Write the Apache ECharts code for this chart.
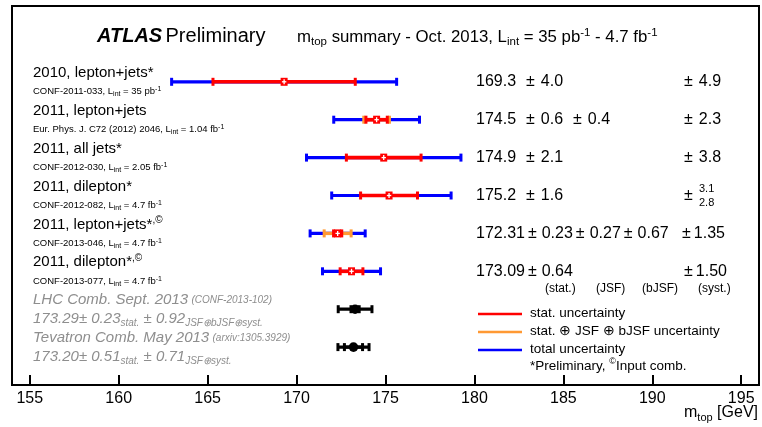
<!DOCTYPE html>
<html>
<head>
<meta charset="utf-8">
<script src="https://cdn.jsdelivr.net/npm/echarts@6/dist/echarts.min.js"></script>
<style>
  html, body { margin: 0; padding: 0; background: #fff; }
  #chart { width: 762px; height: 427px; }
</style>
</head>
<body>
<div id="chart"></div>
<script>
const FONT = '"Liberation Sans", Arial, Helvetica, sans-serif';
const RED = '#ff0000';
const ORANGE = '#ff9933';
const BLUE = '#0000ff';
const GREY = '#8e8e8e';

// ATLAS top-quark mass measurements (GeV)
const measLabels   = ['2010, lepton+jets*', '2011, lepton+jets', '2011, all jets*', '2011, dilepton*', '2011, lepton+jets*', '2011, dilepton*'];
const measLabelSup = ['', '', '', '', ',©', ',©'];
const measRefs     = ['CONF-2011-033', 'Eur. Phys. J. C72 (2012) 2046', 'CONF-2012-030', 'CONF-2012-082', 'CONF-2013-046', 'CONF-2013-077'];
const measLumi     = ['35 pb', '1.04 fb', '2.05 fb', '4.7 fb', '4.7 fb', '4.7 fb'];
const measMass     = [169.3, 174.5, 174.9, 175.2, 172.31, 173.09];
const measStat     = [4.0, 0.6, 2.1, 1.6, 0.23, 0.64];
const measJsf      = [0, 0.4, 0, 0, 0.27, 0];
const measBjsf     = [0, 0, 0, 0, 0.67, 0];
const measSystUp   = [4.9, 2.3, 3.8, 3.1, 1.35, 1.50];
const measSystDown = [4.9, 2.3, 3.8, 2.8, 1.35, 1.50];
const measDigits   = [1, 1, 1, 1, 2, 2];

// LHC and Tevatron combinations
const combTitles = ['LHC Comb. Sept. 2013', 'Tevatron Comb. May 2013'];
const combRefs   = ['(CONF-2013-102)', '(arxiv:1305.3929)'];
const combMass   = [173.29, 173.20];
const combStat   = [0.23, 0.51];
const combSyst   = [0.92, 0.71];
const combSystLabel = ['JSF⊕bJSF⊕syst.', 'JSF⊕syst.'];

const massTicks = [155, 160, 165, 170, 175, 180, 185, 190, 195];

const LABEL_X = 33;
const VALUE_X = 476;
const SYST_X = 684;

const richRow = {
  t: { fontFamily: FONT, fontSize: 15, lineHeight: 18, verticalAlign: 'middle', fill: '#000' },
  u: { fontFamily: FONT, fontSize: 10, lineHeight: 10, verticalAlign: 'top', fill: '#000' }
};
const richRef = {
  r: { fontFamily: FONT, fontSize: 9.5, lineHeight: 12, verticalAlign: 'middle', fill: '#000' },
  s: { fontFamily: FONT, fontSize: 7, lineHeight: 7, verticalAlign: 'bottom', fill: '#000' },
  u: { fontFamily: FONT, fontSize: 7, lineHeight: 7, verticalAlign: 'top', fill: '#000' }
};
const richVal = {
  n: { fontFamily: FONT, fontSize: 16, lineHeight: 18, verticalAlign: 'middle', fill: '#000' },
  pmL: { fontFamily: FONT, fontSize: 16, lineHeight: 18, verticalAlign: 'middle', fill: '#000', padding: [0, 6, 0, 10] },
  pmT: { fontFamily: FONT, fontSize: 16, lineHeight: 18, verticalAlign: 'middle', fill: '#000', padding: [0, 5, 0, 3] },
  pmSL: { fontFamily: FONT, fontSize: 16, lineHeight: 18, verticalAlign: 'middle', fill: '#000', padding: [0, 6, 0, 0] },
  pmST: { fontFamily: FONT, fontSize: 16, lineHeight: 18, verticalAlign: 'middle', fill: '#000', padding: [0, 3, 0, 0] }
};
const richComb = {
  t: { fontFamily: FONT, fontSize: 15, fontStyle: 'italic', lineHeight: 18, verticalAlign: 'middle', fill: GREY },
  r: { fontFamily: FONT, fontSize: 10, fontStyle: 'italic', lineHeight: 18, verticalAlign: 'middle', fill: GREY },
  s: { fontFamily: FONT, fontSize: 10, fontStyle: 'italic', lineHeight: 10, verticalAlign: 'bottom', fill: GREY }
};

function pushErrorBar(out, api, row, lo, hi, color, width, capH) {
  const a = api.coord([lo, row]);
  const b = api.coord([hi, row]);
  out.push({ type: 'line', shape: { x1: a[0], y1: a[1], x2: b[0], y2: b[1] }, style: { stroke: color, lineWidth: width } });
  out.push({ type: 'rect', shape: { x: a[0] - 1.5, y: a[1] - capH / 2, width: 3, height: capH }, style: { fill: color } });
  out.push({ type: 'rect', shape: { x: b[0] - 1.5, y: b[1] - capH / 2, width: 3, height: capH }, style: { fill: color } });
}

function renderMeasurement(params, api) {
  const i = params.dataIndex;
  const row = api.value(0);
  const m = api.value(1);
  const d = measDigits[i];
  const stat = measStat[i];
  const inner = Math.hypot(stat, measJsf[i], measBjsf[i]);
  const totLo = Math.hypot(inner, measSystDown[i]);
  const totHi = Math.hypot(inner, measSystUp[i]);
  const kids = [];

  pushErrorBar(kids, api, row, m - totLo, m + totHi, BLUE, 3.2, 8);
  if (measJsf[i] || measBjsf[i]) pushErrorBar(kids, api, row, m - inner, m + inner, ORANGE, 3.4, 8);
  pushErrorBar(kids, api, row, m - stat, m + stat, RED, 3.6, 8);

  const c = api.coord([m, row]);
  kids.push({ type: 'rect', shape: { x: c[0] - 3.5, y: c[1] - 4, width: 7, height: 8 }, style: { fill: RED } });
  kids.push({ type: 'line', shape: { x1: c[0] - 2.2, y1: c[1], x2: c[0] + 2.2, y2: c[1] }, style: { stroke: '#fff', lineWidth: 1.3 } });
  kids.push({ type: 'line', shape: { x1: c[0], y1: c[1] - 2.5, x2: c[0], y2: c[1] + 2.5 }, style: { stroke: '#fff', lineWidth: 1.3 } });

  const y = c[1];
  const lbl = '{t|' + measLabels[i] + '}' + (measLabelSup[i] ? '{u|' + measLabelSup[i] + '}' : '');
  kids.push({ type: 'text', style: { x: LABEL_X, y: y - 9, text: lbl, rich: richRow, align: 'left', verticalAlign: 'middle' } });
  const ref = '{r|' + measRefs[i] + ', L}{s|int}{r| = ' + measLumi[i] + '}{u|-1}';
  kids.push({ type: 'text', style: { x: LABEL_X, y: y + 10, text: ref, rich: richRef, align: 'left', verticalAlign: 'middle' } });

  const pm = d === 1 ? 'pmL' : 'pmT';
  let val = '{n|' + m.toFixed(d) + '}{' + pm + '|±}{n|' + stat.toFixed(d) + '}';
  if (measJsf[i]) val += '{' + pm + '|±}{n|' + measJsf[i].toFixed(d) + '}';
  if (measBjsf[i]) val += '{' + pm + '|±}{n|' + measBjsf[i].toFixed(d) + '}';
  kids.push({ type: 'text', style: { x: VALUE_X, y: y, text: val, rich: richVal, align: 'left', verticalAlign: 'middle' } });

  const ps = d === 1 ? 'pmSL' : 'pmST';
  const sx = measBjsf[i] ? SYST_X - 2 : SYST_X;
  if (measSystUp[i] === measSystDown[i]) {
    kids.push({ type: 'text', style: { x: sx, y: y, text: '{' + ps + '|±}{n|' + measSystUp[i].toFixed(d) + '}', rich: richVal, align: 'left', verticalAlign: 'middle' } });
  } else {
    kids.push({ type: 'text', style: { x: sx, y: y, text: '±', font: '16px ' + FONT, fill: '#000', align: 'left', verticalAlign: 'middle' } });
    kids.push({ type: 'text', style: { x: sx + 15, y: y - 7, text: measSystUp[i].toFixed(d), font: '11px ' + FONT, fill: '#000', align: 'left', verticalAlign: 'middle' } });
    kids.push({ type: 'text', style: { x: sx + 15, y: y + 7, text: measSystDown[i].toFixed(d), font: '11px ' + FONT, fill: '#000', align: 'left', verticalAlign: 'middle' } });
  }
  return { type: 'group', children: kids };
}

function renderCombination(params, api) {
  const i = params.dataIndex;
  const row = api.value(0);
  const m = api.value(1);
  const stat = combStat[i];
  const tot = Math.hypot(stat, combSyst[i]);
  const kids = [];
  pushErrorBar(kids, api, row, m - tot, m + tot, '#000', 3.2, 8);
  pushErrorBar(kids, api, row, m - stat, m + stat, '#000', 3.2, 8);
  const c = api.coord([m, row]);
  kids.push({ type: 'circle', shape: { cx: c[0], cy: c[1], r: 4.8 }, style: { fill: '#000' } });

  const y = c[1];
  kids.push({ type: 'text', style: { x: LABEL_X, y: y - 9, text: '{t|' + combTitles[i] + '} {r|' + combRefs[i] + '}', rich: richComb, align: 'left', verticalAlign: 'middle' } });
  const line2 = '{t|' + m.toFixed(2) + '± ' + stat.toFixed(2) + '}{s|stat.}{t| ± ' + combSyst[i].toFixed(2) + '}{s|' + combSystLabel[i] + '}';
  kids.push({ type: 'text', style: { x: LABEL_X, y: y + 10, text: line2, rich: richComb, align: 'left', verticalAlign: 'middle' } });
  return { type: 'group', children: kids };
}

const measData = measMass.map((m, i) => [i, m]);
const combData = combMass.map((m, i) => [measMass.length + i, m]);

const chart = echarts.init(document.getElementById('chart'), null, { renderer: 'canvas' });

chart.setOption({
  animation: false,
  backgroundColor: '#fff',
  grid: { left: 12, right: 3, top: 6, bottom: 42, show: true, borderColor: '#000', borderWidth: 2, backgroundColor: 'transparent' },
  xAxis: {
    type: 'value', min: 154, max: 196, position: 'bottom',
    axisLine: { show: false, onZero: false },
    splitLine: { show: false },
    axisTick: { show: true, inside: true, length: 10, customValues: massTicks, lineStyle: { color: '#000', width: 2 } },
    axisLabel: { customValues: massTicks, color: '#000', fontSize: 16, fontFamily: FONT, margin: 6 }
  },
  yAxis: {
    type: 'value', inverse: true, min: -2, max: 8, show: false
  },
  series: [
    { type: 'custom', name: 'measurements', coordinateSystem: 'cartesian2d', data: measData, renderItem: renderMeasurement, clip: false, z: 3 },
    { type: 'custom', name: 'combinations', coordinateSystem: 'cartesian2d', data: combData, renderItem: renderCombination, clip: false, z: 3 }
  ],
  graphic: [
    {
      type: 'text', left: 97, top: 26,
      style: {
        text: '{a|ATLAS} {p|Preliminary}',
        rich: {
          a: { fontFamily: FONT, fontSize: 20, fontWeight: 'bold', fontStyle: 'italic', fill: '#000', lineHeight: 24 },
          p: { fontFamily: FONT, fontSize: 20, fill: '#000', lineHeight: 24 }
        }
      }
    },
    {
      type: 'text', left: 297, top: 27,
      style: {
        text: '{m|m}{s|top}{m| summary - Oct. 2013, L}{s|int}{m| = 35 pb}{u|-1}{m| - 4.7 fb}{u|-1}',
        rich: {
          m: { fontFamily: FONT, fontSize: 16.8, fill: '#000', lineHeight: 21, verticalAlign: 'middle' },
          s: { fontFamily: FONT, fontSize: 11.5, fill: '#000', lineHeight: 11, verticalAlign: 'bottom' },
          u: { fontFamily: FONT, fontSize: 11.5, fill: '#000', lineHeight: 11, verticalAlign: 'top' }
        }
      }
    },
    { type: 'text', left: 545, top: 283, style: { text: '(stat.)', font: '12px ' + FONT, fill: '#000' } },
    { type: 'text', left: 596, top: 283, style: { text: '(JSF)', font: '12px ' + FONT, fill: '#000' } },
    { type: 'text', left: 642, top: 283, style: { text: '(bJSF)', font: '12px ' + FONT, fill: '#000' } },
    { type: 'text', left: 698, top: 283, style: { text: '(syst.)', font: '12px ' + FONT, fill: '#000' } },
    // legend
    { type: 'line', shape: { x1: 478, y1: 314, x2: 522, y2: 314 }, style: { stroke: RED, lineWidth: 2.5 } },
    { type: 'line', shape: { x1: 478, y1: 332, x2: 522, y2: 332 }, style: { stroke: ORANGE, lineWidth: 2.5 } },
    { type: 'line', shape: { x1: 478, y1: 350, x2: 522, y2: 350 }, style: { stroke: BLUE, lineWidth: 2.5 } },
    { type: 'text', left: 530, top: 306, style: { text: 'stat. uncertainty', font: '13.5px ' + FONT, fill: '#000' } },
    { type: 'text', left: 530, top: 324, style: { text: 'stat. ⊕ JSF ⊕ bJSF uncertainty', font: '13.5px ' + FONT, fill: '#000' } },
    { type: 'text', left: 530, top: 342, style: { text: 'total uncertainty', font: '13.5px ' + FONT, fill: '#000' } },
    {
      type: 'text', left: 530, top: 357,
      style: {
        text: '{t|*Preliminary, }{u|©}{t|Input comb.}',
        rich: {
          t: { fontFamily: FONT, fontSize: 13.5, fill: '#000', lineHeight: 18, verticalAlign: 'middle' },
          u: { fontFamily: FONT, fontSize: 9, fill: '#000', lineHeight: 9, verticalAlign: 'top' }
        }
      }
    },
    // axis title
    {
      type: 'text', right: 4, top: 405,
      style: {
        text: '{m|m}{s|top}{m| [GeV]}',
        rich: {
          m: { fontFamily: FONT, fontSize: 16, fill: '#000', lineHeight: 20, verticalAlign: 'middle' },
          s: { fontFamily: FONT, fontSize: 11, fill: '#000', lineHeight: 11, verticalAlign: 'bottom' }
        }
      }
    }
  ]
});
</script>
</body>
</html>
